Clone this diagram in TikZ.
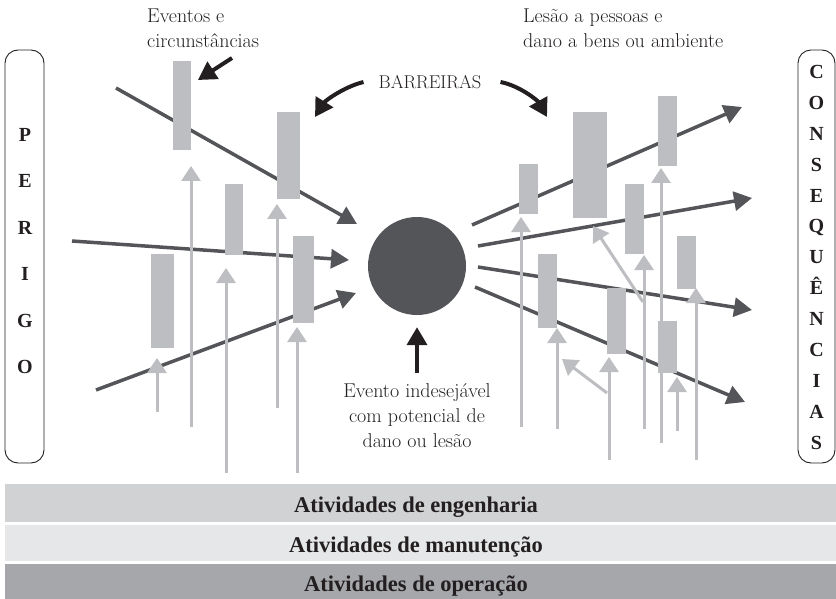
\documentclass[tikz,border=0pt]{standalone}
\usepackage{fontspec}
\usetikzlibrary{arrows.meta}
\newfontfamily\boldserif{Liberation Serif}
\definecolor{inkblack}{RGB}{35,31,32}
\definecolor{linegray}{RGB}{84,85,89}
\definecolor{bargray}{RGB}{189,190,193}
\definecolor{enggray}{RGB}{209,210,212}
\definecolor{mangray}{RGB}{230,231,232}
\definecolor{opgray}{RGB}{166,167,170}

\begin{document}
\begin{tikzpicture}[x=1pt,y=-1pt,
  hazard/.style={draw=linegray,line width=3.5pt,-{Triangle[length=18pt,width=19pt]}},
  barrier/.style={fill=bargray},
  cause/.style={draw=bargray,line width=3pt,-{Triangle[length=15pt,width=19pt]}},
  callout/.style={draw=inkblack,line width=4pt,-{Triangle[length=18pt,width=20pt]}},
  sidebox/.style={draw=inkblack,line width=0.9pt,rounded corners=13pt},
  sideletter/.style={anchor=base,inner sep=0pt,text=inkblack,font=\boldserif\bfseries\fontsize{20}{20}\selectfont},
  notetext/.style={inner sep=0pt,text=inkblack,font=\fontsize{20}{25}\selectfont},
  activity/.style={anchor=base,inner sep=0pt,text=inkblack,font=\boldserif\bfseries\fontsize{22.5}{22.5}\selectfont}]
  \useasboundingbox (0,0) rectangle (836,599);

  % activities
  \fill[enggray] (5,484) rectangle (836,522);
  \fill[mangray] (5,524.5) rectangle (836,561);
  \fill[opgray] (5,564) rectangle (836,599);
  \node[activity] (eng) at (416,512) {Atividades de engenharia};
  \node[activity] (man) at (416,552.5) {Atividades de manutenção};
  \node[activity] (op) at (416,591.5) {Atividades de operação};

  % side boxes
  \draw[sidebox] (5,50) rectangle (44,463);
  \draw[sidebox] (798,50) rectangle (835,463);
  \foreach \ch [count=\i] in {P,E,R,I,G,O}
    \node[sideletter] (per\i) at (25,{141.5+46.4*(\i-1)}) {\ch};
  \foreach \ch [count=\i] in {C,O,N,S,E,Q,U,Ê,N,C,I,A,S}
    \node[sideletter] (cons\i) at (816.5,{78.5+30.9*(\i-1)}) {\ch};

  % hazard paths
  \foreach \xa/\ya/\xb/\yb in {116/88/357/224, 72/241/349/260, 96/390/356/293,
      472/225/742/107, 478/246/752/198, 478/267/752/310, 475/287/745/402}
    \draw[hazard] (\xa,\ya) -- (\xb,\yb);
  \node[circle,fill=linegray,minimum size=98pt,inner sep=0pt] (topevent) at (417,266) {};

  % causes
  \foreach \x/\ya/\yb in {191/427/166, 277/408/204, 226/473/268, 157/412/358, 297/473/327,
      521/427/217, 557/429/328, 609/460/357, 644/429/255, 661/443/168, 677/431/377, 696/460/288}
    \draw[cause] (\x,\ya) -- (\x,\yb);
  \draw[cause] (607,393) -- (562,359);
  \draw[cause] (643,302) -- (593,226);

  % barriers
  \foreach \xa/\ya/\xb/\yb in {173/61/191/150, 277/112/300/199, 225/184/243/255,
      293/236/314/323, 151/254/174/348, 519/164/538/214, 573/112/607/218,
      658/96/677/166, 625/184/644/254, 677/236/696/289, 538/254/557/328,
      607/288/626/354, 658/321/677/373}
    \fill[barrier] (\xa,\ya) rectangle (\xb,\yb);

  % labels
  \node[notetext,anchor=north west,align=left] (circs) at (147,9) {Eventos e\\circunstâncias};
  \node[notetext,anchor=north west,align=left] (damage) at (523,9) {Lesão a pessoas e\\dano a bens ou ambiente};
  \node[notetext,font=\fontsize{18.5}{20}\selectfont] (barreiras) at (430,82) {BARREIRAS};
  \node[notetext,anchor=north,align=center] (evento) at (417,383) {Evento indesejável\\com potencial de\\dano ou lesão};
  \coordinate (circstail) at (232,58);
  \coordinate (circstip) at (198,80);
  \coordinate (barL) at (315,117);
  \coordinate (barR) at (547,117);
  \draw[callout] (circstail) -- (circstip);
  \draw[callout] ([xshift=-15pt]barreiras.west) .. controls +(-20,5) and +(10,-16) .. (barL);
  \draw[callout] ([xshift=19pt]barreiras.east) .. controls +(20,4) and +(-9,-16) .. (barR);
  \draw[callout,shorten >=12pt] ([yshift=10pt]evento.north) -- (topevent.south);
\end{tikzpicture}
\end{document}
